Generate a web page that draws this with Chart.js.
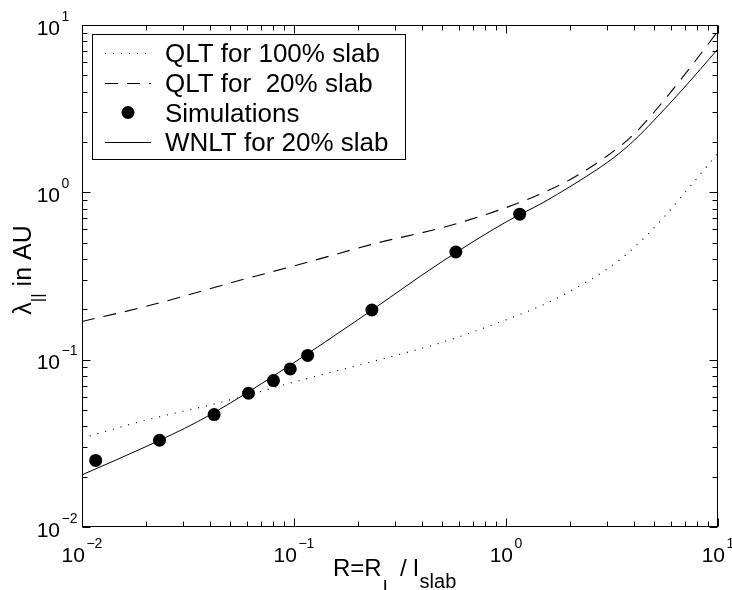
<!DOCTYPE html>
<html>
<head>
<meta charset="utf-8">
<script src="https://cdn.jsdelivr.net/npm/chart.js@4/dist/chart.umd.min.js"></script>
<style>
  html, body { margin: 0; padding: 0; background: #fff; }
  canvas { display: block; }
</style>
</head>
<body>
<canvas id="c" width="732" height="590"></canvas>
<script>
const FONT = "'Liberation Sans', Arial, Helvetica, sans-serif";

// Simulated mean free paths
const simX = [0.0116, 0.0232, 0.042, 0.061, 0.080, 0.096, 0.116, 0.233, 0.58, 1.16];
const simY = [0.025, 0.033, 0.047, 0.063, 0.075, 0.088, 0.106, 0.198, 0.44, 0.74];

// Quasilinear theory, 100% slab
const qlt100X = [0.01, 0.02, 0.045, 0.1, 0.25, 0.5, 1, 1.5, 2, 3, 4, 5.5, 7.5, 10];
const qlt100Y = [0.034, 0.0435, 0.0555, 0.0735, 0.0995, 0.127, 0.173, 0.213, 0.256, 0.348, 0.465, 0.70, 1.11, 1.72];

// Quasilinear theory, 20% slab
const qlt20X = [0.01, 0.02, 0.06, 0.1, 0.25, 0.5, 1, 1.5, 2, 3, 4, 5, 7.5, 10];
const qlt20Y = [0.169, 0.208, 0.306, 0.363, 0.50, 0.615, 0.81, 0.995, 1.19, 1.65, 2.22, 3.02, 5.7, 9.2];

// Weakly nonlinear theory, 20% slab
const wnltX = [0.01, 0.02, 0.035, 0.05, 0.1, 0.2, 0.5, 1, 1.5, 2, 2.5, 3.2, 4, 5, 6.9, 10];
const wnltY = [0.0205, 0.0302, 0.0425, 0.055, 0.096, 0.173, 0.386, 0.665, 0.87, 1.08, 1.29, 1.60, 2.03, 2.70, 4.2, 7.2];

// Decade ticks and their exponents (both axes span 10^-2 .. 10^1)
const decades = [0.01, 0.1, 1, 10];
const decadeExp = ['\u22122', '\u22121', '0', '1'];

const legendLabels = ['QLT for 100% slab', 'QLT for  20% slab', 'Simulations', 'WNLT for 20% slab'];

const toPoints = (xs, ys) => xs.map((x, i) => ({ x: x, y: ys[i] }));

// "10" with a raised exponent
function powerLabel(ctx, x, baseline, exp, align) {
  ctx.font = '21px ' + FONT;
  const wBase = ctx.measureText('10').width;
  ctx.font = '14px ' + FONT;
  const wExp = ctx.measureText(exp).width;
  let start;
  if (align === 'center') start = x - (wBase + 1.5 + wExp) / 2;
  else start = x - wBase; // x = right edge of "10"
  ctx.textAlign = 'left';
  ctx.textBaseline = 'alphabetic';
  ctx.font = '21px ' + FONT;
  ctx.fillText('10', start, baseline);
  ctx.font = '14px ' + FONT;
  ctx.fillText(exp, start + wBase + 1.5, baseline - 14);
}

// Draw a run of text pieces [text, size, dy] left to right, returns end x
function runs(ctx, parts, x, y) {
  let cx = x;
  for (const [t, size, dy] of parts) {
    ctx.font = size + 'px ' + FONT;
    ctx.fillText(t, cx, y + dy);
    cx += ctx.measureText(t).width;
  }
  return cx;
}
function runsWidth(ctx, parts) {
  let w = 0;
  for (const [t, size] of parts) {
    ctx.font = size + 'px ' + FONT;
    w += ctx.measureText(t).width;
  }
  return w;
}

const decor = {
  id: 'decor',
  afterDatasetsDraw(chart) {
    const ctx = chart.ctx, a = chart.chartArea;
    const xs = chart.scales.x, ys = chart.scales.y;
    ctx.save();
    ctx.strokeStyle = '#000';
    ctx.lineWidth = 1;
    const L = Math.round(a.left) + 0.5, R = Math.round(a.right) - 0.5;
    const T = Math.round(a.top) + 0.5, B = Math.round(a.bottom) - 0.5;
    ctx.strokeRect(L, T, R - L, B - T);

    // inward ticks on all four sides
    ctx.beginPath();
    decades.forEach((d, i) => {
      const last = i === decades.length - 1;
      for (let m = 1; m <= (last ? 1 : 9); m++) {
        const v = m * d;
        const len = m === 1 ? 8 : 5;
        const px = Math.round(xs.getPixelForValue(v)) + 0.5;
        ctx.moveTo(px, B); ctx.lineTo(px, B - len);
        ctx.moveTo(px, T); ctx.lineTo(px, T + len);
        const py = Math.round(ys.getPixelForValue(v)) + 0.5;
        ctx.moveTo(L, py); ctx.lineTo(L + len, py);
        ctx.moveTo(R, py); ctx.lineTo(R - len, py);
      }
    });
    ctx.stroke();
    ctx.restore();
  },
  afterDraw(chart) {
    const ctx = chart.ctx, a = chart.chartArea;
    const xs = chart.scales.x, ys = chart.scales.y;
    ctx.save();
    ctx.fillStyle = '#000';

    // tick labels
    decades.forEach((d, i) => {
      powerLabel(ctx, xs.getPixelForValue(d), a.bottom + 35, decadeExp[i], 'center');
      powerLabel(ctx, a.left - 22, ys.getPixelForValue(d) + 9.5, decadeExp[i], 'right');
    });

    // x-axis title: R=R_L / l_slab
    ctx.textAlign = 'left';
    ctx.textBaseline = 'alphabetic';
    let cx = 333;
    cx = runs(ctx, [['R=R', 24, 0]], cx, 576);
    cx = runs(ctx, [['L', 19, 0]], cx + 1, 593);
    cx = runs(ctx, [[' / l', 24, 0]], cx, 576);
    runs(ctx, [['slab', 20, 0]], cx + 1, 588);

    // y-axis title: lambda_|| in AU
    const yParts = [['\u03bb', 25, 0], ['||', 17, 12], [' in AU', 25, 0]];
    const wy = runsWidth(ctx, yParts);
    ctx.save();
    ctx.translate(31, 270);
    ctx.rotate(-Math.PI / 2);
    runs(ctx, yParts, -wy / 2, 0);
    ctx.restore();

    // legend box
    const bx = 92.5, by = 34.5, bw = 313, bh = 125;
    ctx.fillStyle = '#fff';
    ctx.fillRect(bx, by, bw, bh);
    ctx.strokeStyle = '#000';
    ctx.lineWidth = 1;
    ctx.strokeRect(bx, by, bw, bh);

    const rows = [53, 83, 112.5, 142];
    const ds = chart.data.datasets;
    rows.forEach((ry, r) => {
      const d = ds[r];
      if (d.showLine) {
        ctx.save();
        ctx.strokeStyle = d.borderColor;
        ctx.lineWidth = d.borderWidth;
        ctx.setLineDash(d.borderDash || []);
        ctx.beginPath();
        ctx.moveTo(105, Math.round(ry) + 0.5);
        ctx.lineTo(151, Math.round(ry) + 0.5);
        ctx.stroke();
        ctx.restore();
      } else {
        ctx.fillStyle = '#000';
        ctx.beginPath();
        ctx.arc(128, ry, d.pointRadius, 0, Math.PI * 2);
        ctx.fill();
      }
      ctx.fillStyle = '#000';
      ctx.font = '26px ' + FONT;
      ctx.textAlign = 'left';
      ctx.textBaseline = 'alphabetic';
      ctx.fillText(d.label, 165, ry + 9);
    });
    ctx.restore();
  }
};

new Chart(document.getElementById('c'), {
  type: 'scatter',
  data: {
    datasets: [
      {
        label: legendLabels[0],
        data: toPoints(qlt100X, qlt100Y),
        showLine: true, borderColor: '#000', borderWidth: 1.2, borderDash: [1, 7],
        pointRadius: 0, cubicInterpolationMode: 'monotone', fill: false
      },
      {
        label: legendLabels[1],
        data: toPoints(qlt20X, qlt20Y),
        showLine: true, borderColor: '#000', borderWidth: 1.1, borderDash: [13, 9],
        pointRadius: 0, cubicInterpolationMode: 'monotone', fill: false
      },
      {
        label: legendLabels[2],
        data: toPoints(simX, simY),
        showLine: false, pointRadius: 6.5, pointBackgroundColor: '#000',
        pointBorderWidth: 0, pointBorderColor: '#000'
      },
      {
        label: legendLabels[3],
        data: toPoints(wnltX, wnltY),
        showLine: true, borderColor: '#000', borderWidth: 1,
        pointRadius: 0, cubicInterpolationMode: 'monotone', fill: false
      }
    ]
  },
  options: {
    responsive: false,
    animation: false,
    devicePixelRatio: 1,
    layout: { padding: { left: 82, right: 14, top: 25, bottom: 63 } },
    plugins: { legend: { display: false }, tooltip: { enabled: false } },
    scales: {
      x: { type: 'logarithmic', min: 0.01, max: 10, display: false },
      y: { type: 'logarithmic', min: 0.01, max: 10, display: false }
    }
  },
  plugins: [decor]
});
</script>
</body>
</html>
